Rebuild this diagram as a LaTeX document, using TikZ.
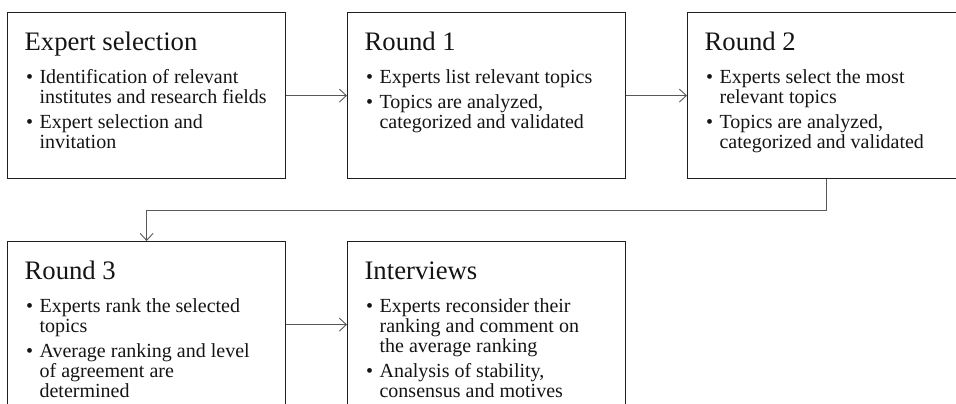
\documentclass[tikz,border=0pt]{standalone}
\usepackage{fontspec}
\setmainfont{Liberation Serif}
\usetikzlibrary{positioning, calc, arrows.meta}

\newcommand{\boxtitle}[1]{\noindent\rule{0pt}{26pt}{\fontsize{26.7}{28}\selectfont #1}\par\vspace{8pt}}
\newcommand{\bitem}[1]{\par\hangindent=15pt\hangafter=1\noindent\makebox[15pt][l]{\hspace{1.5pt}\textbullet}#1}
\newcommand{\stagetext}[1]{\parbox[t][142pt][t]{254pt}{\fontsize{20}{20}\selectfont
		\parskip=5pt\leftskip=5pt\rightskip=0pt plus 1fil\let\\\newline #1}}

\begin{document}
\begin{tikzpicture}[
		x=1pt, y=-1pt,
		stage/.style={draw=black!88, line width=1.2pt, rectangle, anchor=north west,
			inner xsep=12pt, inner ysep=12pt, text=black!92},
		conn/.style={draw=black!65, line width=0.9pt, -{Straight Barb[length=7pt,width=13pt]}}]
		\path[use as bounding box, clip] (0,0) rectangle (956,404);
		\node[stage] (es) at (7,12)    {\stagetext{\boxtitle{Expert selection}
				\bitem{Identification of relevant\\institutes and research fields}
				\bitem{Expert selection and\\invitation}}};
		\node[stage] (r1) at (347,12)  {\stagetext{\boxtitle{Round 1}
				\bitem{Experts list relevant topics}
				\bitem{Topics are analyzed,\\categorized and validated}}};
		\node[stage] (r2) at (687,12)  {\stagetext{\boxtitle{Round 2}
				\bitem{Experts select the most\\relevant topics}
				\bitem{Topics are analyzed,\\categorized and validated}}};
		\node[stage] (r3) at (7,241)   {\stagetext{\boxtitle{Round 3}
				\bitem{Experts rank the selected\\topics}
				\bitem{Average ranking and level\\of agreement are\\determined}}};
		\node[stage] (iv) at (347,241) {\stagetext{\boxtitle{Interviews}
				\bitem{Experts reconsider their\\ranking and comment on\\the average ranking}
				\bitem{Analysis of stability,\\consensus and motives}}};
		
		\coordinate (bend) at ($(r2.south)!0.5!(r3.north)$);
		
		\draw[conn] (es) -- (r1);
		\draw[conn] (r1) -- (r2);
		\draw[conn] (r2.south) |- (bend) -| (r3.north);
		\draw[conn] (r3) -- (iv);
		
	\end{tikzpicture}
\end{document}
